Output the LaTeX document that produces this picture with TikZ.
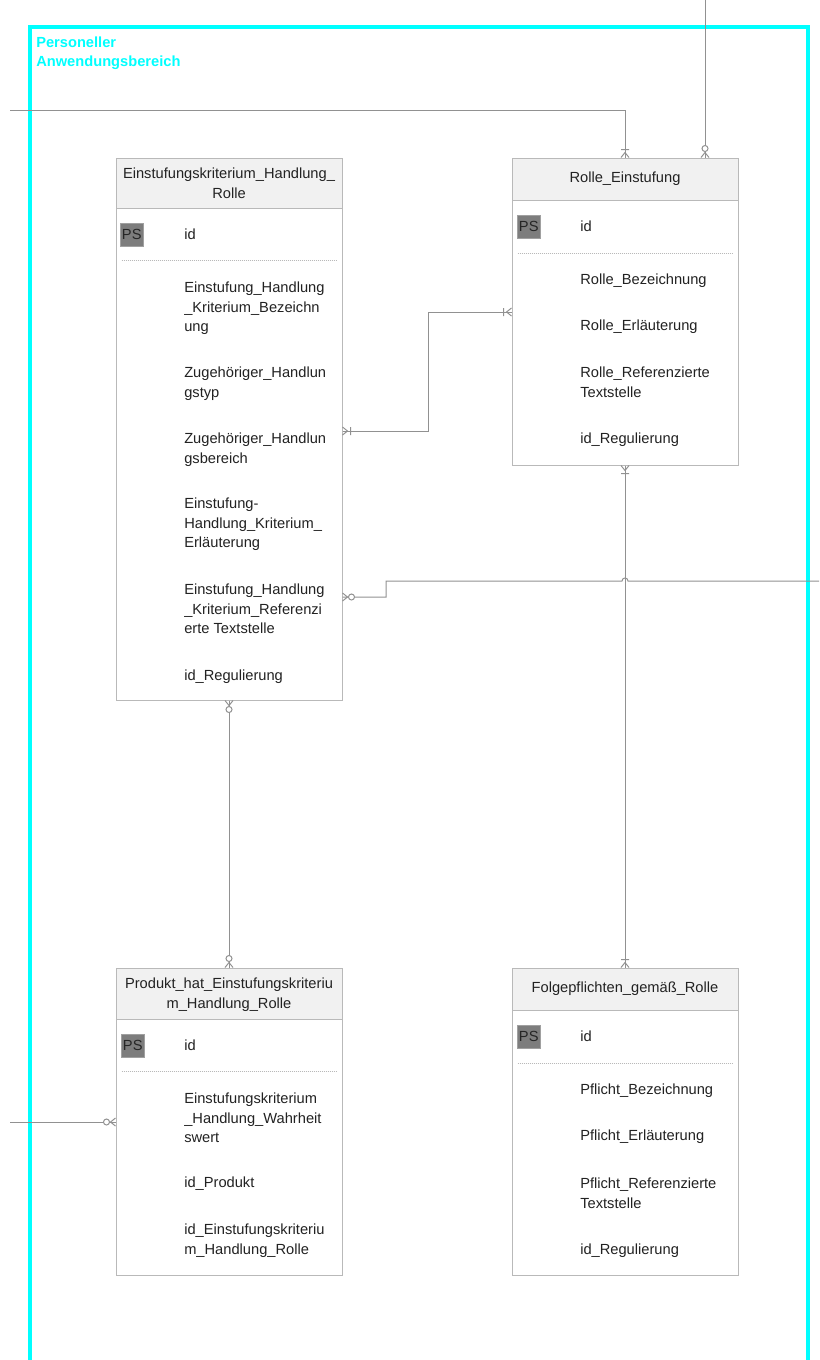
\documentclass[tikz,border=0pt]{standalone}
\usepackage{fontspec}
\setmainfont{Liberation Sans}
\usetikzlibrary{calc,fit}
\definecolor{framecyan}{RGB}{0,255,255}
\definecolor{boxline}{RGB}{185,185,185}
\definecolor{headfill}{RGB}{241,241,241}
\definecolor{connline}{RGB}{145,145,145}
\definecolor{psfill}{RGB}{125,125,125}
\definecolor{psedge}{RGB}{160,160,160}
\definecolor{txt}{RGB}{34,34,34}

% crow's-foot end marks; #1 = point on the entity border, #2 = outward direction
\newcommand{\erOneMany}[2]{%
  \draw[conn,shift={(#1)},rotate=#2] (0,-4) -- (5,0) -- (0,4) (8,-4) -- (8,4);}
\newcommand{\erZeroMany}[2]{%
  \draw[conn,shift={(#1)},rotate=#2] (0,-4) -- (5,0) -- (0,4);
  \draw[conn,fill=white,shift={(#1)},rotate=#2] (9,0) circle[radius=3];}

\tikzset{
  tablebox/.style={draw=boxline, fill=white, inner sep=0pt, line width=0.75pt},
  headbox/.style={draw=boxline, fill=headfill, inner sep=0pt, line width=0.75pt},
  headtext/.style={anchor=north, align=center, inner sep=0pt, text=txt},
  attr/.style={anchor=north west, align=left, inner sep=0pt, text=txt},
  pskey/.style={anchor=north west, fill=psfill, draw=psedge, line width=0.4pt,
    inner sep=0pt, minimum size=17.25pt, text=black!85},
  sep/.style={draw=boxline, line width=0.5pt, dash pattern=on 0.75pt off 0.75pt},
  conn/.style={draw=connline, line width=0.75pt},
  areaframe/.style={draw=framecyan, line width=3pt},
  arealabel/.style={anchor=north west, align=left, inner sep=0pt, text=framecyan,
    font=\bfseries\fontsize{11}{14.25}\selectfont},
}

\begin{document}
\begin{tikzpicture}[x=0.75pt, y=-0.75pt, font=\fontsize{11}{14.6}\selectfont]
\useasboundingbox (0,0) rectangle (819,1360);

% scope frame
\draw[areaframe] (30,1375) -- (30,27) -- (808,27) -- (808,1375);
\node[arealabel] (arealbl) at (36,37) {Personeller\\Anwendungsbereich};

% ---------- Einstufungskriterium_Handlung_Rolle ----------
\node[tablebox, fit={(116,158) (342,700)}] (t1) {};
\node[headbox, fit={(116,158) (342,208)}] (t1h) {};
\node[headtext] (t1name) at (229,168) {Einstufungskriterium\_Handlung\_\\Rolle};
\node[pskey] (t1k) at (120,223) {PS};
\node[attr] (t1id) at (184,229) {id};
\draw[sep] ($(t1.west |- 0,260)+(6,0)$) -- ($(t1.east |- 0,260)+(-6,0)$);
\node[attr] (t1a1) at (184,282) {Einstufung\_Handlung\\\_Kriterium\_Bezeichn\\ung};
\node[attr] (t1a2) at (184,367) {Zugehöriger\_Handlun\\gstyp};
\node[attr] (t1a3) at (184,433) {Zugehöriger\_Handlun\\gsbereich};
\node[attr] (t1a4) at (184,498) {Einstufung-\\Handlung\_Kriterium\_\\Erläuterung};
\node[attr] (t1a5) at (184,584) {Einstufung\_Handlung\\\_Kriterium\_Referenzi\\erte Textstelle};
\node[attr] (t1a6) at (184,670) {id\_Regulierung};

% ---------- Rolle_Einstufung ----------
\node[tablebox, fit={(512,158) (738,465)}] (t2) {};
\node[headbox, fit={(512,158) (738,200)}] (t2h) {};
\node[headtext] (t2name) at (625,172) {Rolle\_Einstufung};
\node[pskey] (t2k) at (517,215) {PS};
\node[attr] (t2id) at (580,221) {id};
\draw[sep] ($(t2.west |- 0,253)+(6,0)$) -- ($(t2.east |- 0,253)+(-6,0)$);
\node[attr] (t2a1) at (580,274) {Rolle\_Bezeichnung};
\node[attr] (t2a2) at (580,320) {Rolle\_Erläuterung};
\node[attr] (t2a3) at (580,367) {Rolle\_Referenzierte\\Textstelle};
\node[attr] (t2a4) at (580,433) {id\_Regulierung};

% ---------- Produkt_hat_Einstufungskriterium_Handlung_Rolle ----------
\node[tablebox, fit={(116,968) (342,1275)}] (t3) {};
\node[headbox, fit={(116,968) (342,1019)}] (t3h) {};
\node[headtext] (t3name) at (229,978) {Produkt\_hat\_Einstufungskriteriu\\m\_Handlung\_Rolle};
\node[pskey] (t3k) at (121,1034) {PS};
\node[attr] (t3id) at (184,1040) {id};
\draw[sep] ($(t3.west |- 0,1071)+(6,0)$) -- ($(t3.east |- 0,1071)+(-6,0)$);
\node[attr] (t3a1) at (184,1093) {Einstufungskriterium\\\_Handlung\_Wahrheit\\swert};
\node[attr] (t3a2) at (184,1177) {id\_Produkt};
\node[attr] (t3a3) at (184,1224) {id\_Einstufungskriteriu\\m\_Handlung\_Rolle};

% ---------- Folgepflichten_gemäß_Rolle ----------
\node[tablebox, fit={(512,968) (738,1275)}] (t4) {};
\node[headbox, fit={(512,968) (738,1010)}] (t4h) {};
\node[headtext] (t4name) at (625,982) {Folgepflichten\_gemäß\_Rolle};
\node[pskey] (t4k) at (517,1025) {PS};
\node[attr] (t4id) at (580,1031) {id};
\draw[sep] ($(t4.west |- 0,1063)+(6,0)$) -- ($(t4.east |- 0,1063)+(-6,0)$);
\node[attr] (t4a1) at (580,1084) {Pflicht\_Bezeichnung};
\node[attr] (t4a2) at (580,1130) {Pflicht\_Erläuterung};
\node[attr] (t4a3) at (580,1178) {Pflicht\_Referenzierte\\Textstelle};
\node[attr] (t4a4) at (580,1244) {id\_Regulierung};

% ---------- relationships ----------
\coordinate (westIn) at (10,110);
\coordinate (topIn) at (705,0);
\coordinate (t2top2) at (topIn |- t2.north);
\coordinate (t1r1) at (t1.east |- 0,431);
\coordinate (t2l1) at (t2.west |- 0,312);
\coordinate (t1r2) at (t1.east |- 0,597);
\coordinate (eastOut) at (819,581);
\coordinate (westIn2) at (10,1122);
\coordinate (t3l) at (t3.west |- westIn2);

\draw[conn] (westIn) -| (t2.north);
\draw[conn] (topIn) -- (t2top2);
\draw[conn] (t1r1) -- (428,431) |- (t2l1);
\draw[conn] (t1r2) -- (386,597) -- (386,581) -- (622,581)
  .. controls (622,577) and (628,577) .. (628,581) -- (eastOut);
\draw[conn] (t2.south) -- (t4.north);
\draw[conn] (t1.south) -- (t3.north);
\draw[conn] (westIn2) -- (t3l);

\erOneMany{t2.north}{90}
\erZeroMany{t2top2}{90}
\erOneMany{t1r1}{0}
\erOneMany{t2l1}{180}
\erZeroMany{t1r2}{0}
\erOneMany{t2.south}{-90}
\erOneMany{t4.north}{90}
\erZeroMany{t1.south}{-90}
\erZeroMany{t3.north}{90}
\erZeroMany{t3l}{180}
\end{tikzpicture}
\end{document}
